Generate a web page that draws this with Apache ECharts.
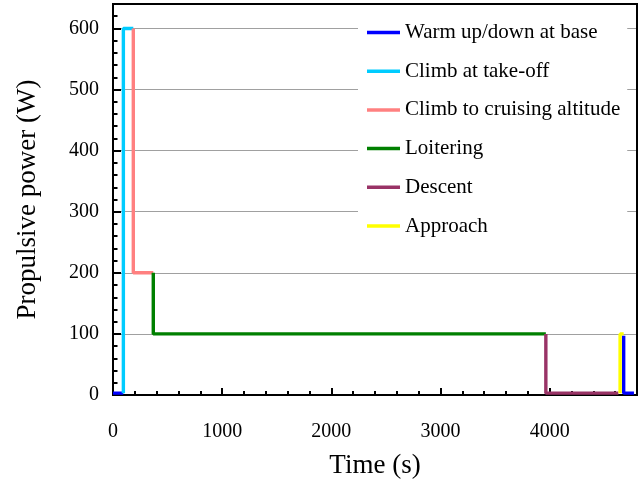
<!DOCTYPE html>
<html>
<head>
<meta charset="utf-8">
<script src="https://cdn.jsdelivr.net/npm/echarts@6/dist/echarts.min.js"></script>
<style>
    html, body { margin: 0; padding: 0; background: #fff; }
    #chart { width: 640px; height: 488px; }
</style>
</head>
<body>
<div id="chart"></div>
<script>
'use strict';

// ===== data =====
var seriesNames = ['Warm up/down at base', 'Climb at take-off', 'Climb to cruising altitude',
    'Loitering', 'Descent', 'Approach'];
var seriesColors = ['#0000ff', '#00ccff', '#ff8080', '#008000', '#993366', '#ffff00'];

// [time (s), power (W)]
var warmUp = [[0, 3], [95, 3]];
var climbTakeOff = [[95, 3], [95, 600], [186, 600]];
var climbCruise = [[186, 600], [186, 200], [369, 200]];
var loitering = [[369, 200], [369, 100], [3965, 100]];
var descent = [[3965, 100], [3965, 3], [4630, 3]];
var approach = [[4645, 3], [4645, 100], [4678, 100]];
var warmDown = [[4678, 97], [4678, 3], [4772, 3]];

var xMax = 4800, yMax = 640;
var xMajor = 1000, xMinor = 200;
var yMajor = 100, yMinor = 20;

var FONT = 'Liberation Serif';

var chart = echarts.init(document.getElementById('chart'));

function line(name, data, color) {
    return {
        name: name,
        type: 'line',
        xAxisIndex: 0,
        yAxisIndex: 0,
        data: data,
        color: color,
        showSymbol: false,
        symbol: 'none',
        animation: false,
        lineStyle: { width: 3.4, color: color }
    };
}

// 两个重叠的 grid：一个画小刻度，一个画大刻度和标签
var gridPos = { left: 113, right: 3, top: 4, bottom: 93, containLabel: false, outerBoundsMode: 'none' };

var option = {
    animation: false,
    grid: [
        Object.assign({ show: true, borderColor: '#000', borderWidth: 2, z: 1, backgroundColor: 'transparent' }, gridPos),
        Object.assign({}, gridPos)
    ],
    legend: {
        orient: 'vertical',
        left: 358,
        top: 10,
        padding: [12, 7, 14, 9],
        backgroundColor: '#fff',
        icon: 'rect',
        itemWidth: 33,
        itemHeight: 3.5,
        itemGap: 17.7,
        data: seriesNames,
        textStyle: { fontFamily: FONT, fontSize: 21, color: '#000' }
    },
    xAxis: [
        {
            type: 'value', gridIndex: 0, min: 0, max: xMax, interval: xMinor,
            axisLine: { show: true, lineStyle: { color: '#000', width: 2 } },
            axisTick: { show: true, inside: true, length: 4, lineStyle: { color: '#000', width: 2 } },
            axisLabel: { show: false },
            splitLine: { show: false }
        },
        {
            type: 'value', gridIndex: 1, min: 0, max: xMax, interval: xMajor,
            axisLine: { show: true, onZero: false, lineStyle: { color: '#000', width: 2 } },
            axisTick: { show: true, inside: true, length: 7, lineStyle: { color: '#000', width: 2 } },
            axisLabel: {
                show: true, margin: 27, showMaxLabel: false,
                fontFamily: FONT, fontSize: 20, color: '#000',
                formatter: function (v) { return String(v); }
            },
            splitLine: { show: false },
            name: 'Time (s)',
            nameLocation: 'middle',
            nameGap: 57,
            nameMoveOverlap: false,
            nameTextStyle: { fontFamily: FONT, fontSize: 27, color: '#000' }
        }
    ],
    yAxis: [
        {
            type: 'value', gridIndex: 0, min: 0, max: yMax, interval: yMinor,
            axisLine: { show: true, lineStyle: { color: '#000', width: 2 } },
            axisTick: { show: true, inside: true, length: 4.5, lineStyle: { color: '#000', width: 2 } },
            axisLabel: { show: false },
            splitLine: { show: false }
        },
        {
            type: 'value', gridIndex: 1, min: 0, max: yMax, interval: yMajor,
            axisLine: { show: false },
            axisTick: { show: true, inside: true, length: 8, lineStyle: { color: '#000', width: 2 } },
            axisLabel: { show: true, margin: 14, showMaxLabel: false, fontFamily: FONT, fontSize: 20, color: '#000' },
            splitLine: { show: true, lineStyle: { color: '#a0a0a0', width: 1 } },
            name: 'Propulsive power (W)',
            nameLocation: 'middle',
            nameGap: 72,
            nameMoveOverlap: false,
            nameTextStyle: { fontFamily: FONT, fontSize: 27, color: '#000' }
        }
    ],
    series: [
        line(seriesNames[0], warmUp, seriesColors[0]),
        line(seriesNames[1], climbTakeOff, seriesColors[1]),
        line(seriesNames[2], climbCruise, seriesColors[2]),
        line(seriesNames[3], loitering, seriesColors[3]),
        line(seriesNames[4], descent, seriesColors[4]),
        line(seriesNames[5], approach, seriesColors[5]),
        line(seriesNames[0], warmDown, seriesColors[0])
    ]
};

chart.setOption(option);
</script>
</body>
</html>
